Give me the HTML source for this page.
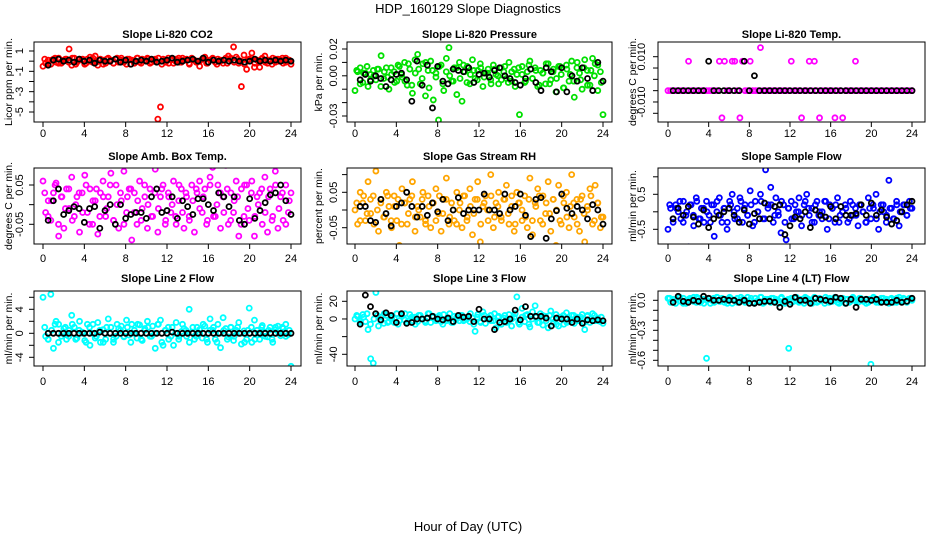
<!DOCTYPE html>
<html><head><meta charset="utf-8"><style>
body{margin:0;background:#fff;}
svg{display:block;font-family:"Liberation Sans",Arial,sans-serif;}
</style></head><body>
<svg id="chart" width="936" height="540" viewBox="0 0 936 540" xmlns="http://www.w3.org/2000/svg">
<rect x="0" y="0" width="936" height="540" fill="#fff"/>
<text x="468" y="13" text-anchor="middle" font-size="13">HDP_160129  Slope Diagnostics</text>
<text x="468" y="531" text-anchor="middle" font-size="13">Hour of Day (UTC)</text>
<g id="panels"></g>
</svg>
<script>
const xTicks=[0,4,8,12,16,20,24];
const titles=["Slope Li-820 CO2","Slope Li-820 Pressure","Slope Li-820 Temp.","Slope Amb. Box Temp.","Slope Gas Stream RH","Slope Sample Flow","Slope Line 2 Flow","Slope Line 3 Flow","Slope Line 4 (LT) Flow"];
const yTitles=["Licor ppm per min.","kPa per min.","degrees C per min.","degrees C per min.","percent per min.","ml/min per min.","ml/min per min.","ml/min per min.","ml/min per min."];
const colors=["#ff0000","#00e000","#ff00ff","#ff00ff","#ffa500","#0000ff","#00ffff","#00ffff","#00ffff"];
const yTickVals=[[1,0,-1,-2,-3,-4,-5],[0.02,0.01,0,-0.01,-0.02,-0.03],[0.01,0.005,0,-0.005,-0.01,-0.015],[0.05,0,-0.05],[0.1,0.05,0,-0.05],[1,0.5,0,-0.5],[6,4,2,0,-2,-4],[20,0,-20,-40],[0,-0.1,-0.2,-0.3,-0.4,-0.5,-0.6]];
const yTickLabels=[["1","","-1","","-3","","-5"],["0.02","","0.00","","","-0.03"],["0.010","","","","-0.010",""],["0.05","","-0.05"],["","0.05","","-0.05"],["","0.5","","-0.5"],["","4","","0","","-4"],["20","0","","-40"],["0.0","","","-0.3","","","-0.6"]];

const c1=[-0.5,-0.2,0.1,-0.3,0.2,-0.1,0.3,-0.2,0.1,0.2,1.2,-0.4,0.3,-0.1,0.2,0.1,-0.3,0.2,0.4,-0.1,0.5,-0.4,0.2,0.1,-0.2,0.3,0.1,-0.2,0.2,-0.1,0.3,0.1,-0.3,0.2,0.1,-0.2,0.3,-0.1,0.2,0.1,0.3,-0.2,0.1,0.2,-5.7,-4.5,0.2,-0.1,0.3,0.1,-0.2,0.2,0.3,-0.1,0.1,0.2,-0.2,0.3,0.1,-0.1,-0.5,0.2,0.4,-0.2,0.1,0.3,-0.1,0.2,0.1,-0.2,0.3,0.5,0.2,1.4,0.4,-0.2,-2.5,0.6,-0.8,0.2,0.8,-0.6,0.1,-0.6,0.3,0.5,-0.2,0.1,0.3,-0.1,0.2,0.1,-0.2,0.3,0.1,-0.3];
const b1=[0.2,-0.3,0.1,0.3,-0.2,0.0,0.2,-0.1,0.3,-0.3,0.1,0.2,-0.2,0.0,0.3,-0.1,0.1,-0.3,0.2,0.0,-0.2,0.3,0.1,-0.1,0.2,-0.3,0.0,0.3,-0.2,0.1,0.2,-0.1,0.0,0.3,-0.3,0.1,-0.2,0.2,0.0,-0.1,0.3,0.1,-0.3,0.2,-0.1,0.0,0.3,-0.2,0.1,0.2,-0.3,0.0,0.1,-0.2,0.3,-0.1,0.2,0.0,-0.3,0.1,0.3,-0.2,0.0,0.2,-0.1,0.1,-0.3,0.2,0.0,0.3,-0.1,0.1];
const k1=[-0.4,0.1,0.2,0.0,0.1,-0.1,0.2,0.0,0.1,-0.2,0.1,0.0,0.0,0.2,-0.1,0.1,-0.3,0.0,0.1,0.0,0.2,-0.1,0.0,0.1,0.3,-0.1,0.0,0.1,0.2,0.0,0.3,-0.1,0.1,0.0,0.1,0.0,0.1,0.0,-0.1,0.0,0.2,0.0,0.1,0.0,0.1,0.0,0.1,0.0];
const c2=[-0.011,0.003,0.006,-0.005,0.002,-0.008,0.001,0.004,-0.003,0.005,0.015,-0.002,0.006,-0.010,0.001,0.003,-0.004,0.007,-0.001,0.010,-0.007,0.005,-0.013,0.012,0.016,-0.006,0.009,-0.015,0.004,0.011,-0.018,0.002,-0.033,0.008,-0.011,0.013,0.021,-0.004,0.006,-0.014,0.010,-0.019,0.003,0.007,-0.006,0.012,-0.002,0.004,0.009,-0.008,0.002,0.005,-0.003,0.008,0.001,-0.006,0.006,0.003,-0.002,0.010,-0.004,0.005,0.001,-0.029,0.007,-0.005,0.003,0.011,-0.002,0.006,-0.008,0.004,0.002,-0.006,0.009,-0.003,0.005,-0.012,0.007,0.001,-0.009,0.008,-0.004,0.011,-0.016,0.006,0.002,-0.010,0.012,0.004,-0.007,0.013,0.009,-0.011,0.003,-0.029];
const b2=[0.004,-0.006,0.002,0.007,-0.003,0.000,0.005,-0.008,0.003,-0.001,0.006,-0.005,0.008,0.001,-0.004,0.009,-0.007,0.002,0.005,-0.002,0.010,-0.009,0.004,-0.001,0.007,-0.006,0.003,0.000,-0.004,0.006,-0.002,0.008,-0.005,0.001,0.004,-0.003,0.006,-0.001,0.002,-0.006,0.005,0.000,-0.003,0.007,-0.005,0.003,-0.008,0.006,0.001,-0.004,0.008,-0.002,0.004,-0.007,0.002,0.009,-0.006,0.003,-0.002,0.007,-0.009,0.005,0.001,-0.004,0.010,-0.003,0.006,-0.007,0.004,0.000,0.008,-0.005];
const k2=[-0.003,0.001,-0.004,0.000,-0.002,-0.008,-0.003,0.001,0.002,-0.003,-0.019,0.011,-0.007,0.008,-0.024,0.007,-0.004,-0.006,0.005,0.004,0.003,0.006,-0.005,0.001,0.002,-0.001,0.004,0.006,0.000,-0.002,-0.005,-0.007,-0.002,0.005,-0.005,-0.011,0.006,0.003,-0.012,0.006,-0.012,0.000,-0.004,0.006,-0.002,-0.011,0.010,-0.004];
const c3=[-0.005,-0.005,-0.005,-0.005,-0.005,-0.005,-0.005,-0.005,0.008,-0.005,-0.005,-0.005,-0.005,-0.005,-0.005,-0.005,-0.005,-0.005,-0.005,-0.005,0.008,-0.017,0.008,-0.005,-0.005,0.008,0.008,-0.005,-0.017,0.008,-0.005,-0.005,0.008,-0.005,-0.005,-0.005,0.014,-0.005,-0.005,-0.005,-0.005,-0.005,-0.005,-0.005,-0.005,-0.005,-0.005,-0.005,0.008,-0.005,-0.005,-0.005,-0.017,-0.005,-0.005,0.008,-0.005,0.008,-0.005,-0.017,-0.005,-0.005,-0.005,-0.005,-0.005,-0.017,-0.005,-0.005,-0.017,-0.005,-0.005,-0.005,-0.005,0.008,-0.005,-0.005,-0.005,-0.005,-0.005,-0.005,-0.005,-0.005,-0.005,-0.005,-0.005,-0.005,-0.005,-0.005,-0.005,-0.005,-0.005,-0.005,-0.005,-0.005,-0.005,-0.005];
const b3=[];
const k3=[-0.005,-0.005,-0.005,-0.005,-0.005,-0.005,-0.005,0.008,-0.005,-0.005,-0.005,-0.005,-0.005,-0.005,0.008,-0.005,0.0016,-0.005,-0.005,-0.005,-0.005,-0.005,-0.005,-0.005,-0.005,-0.005,-0.005,-0.005,-0.005,-0.005,-0.005,-0.005,-0.005,-0.005,-0.005,-0.005,-0.005,-0.005,-0.005,-0.005,-0.005,-0.005,-0.005,-0.005,-0.005,-0.005,-0.005,-0.005];
const c4=[0.06,-0.02,0.01,-0.04,0.03,0.055,-0.08,0.02,-0.06,0.04,-0.01,0.07,-0.03,0.02,-0.07,0.03,0.075,-0.02,0.04,-0.05,0.01,-0.075,0.03,0.06,-0.03,0.02,0.08,-0.04,0.05,-0.06,0.01,0.085,-0.02,0.04,-0.09,0.03,-0.05,0.06,-0.01,0.02,-0.06,0.04,-0.03,0.09,-0.07,0.02,0.05,-0.04,0.03,-0.02,0.06,-0.05,0.01,0.04,-0.06,0.02,-0.03,0.05,-0.07,0.03,0.06,-0.02,0.04,-0.04,0.07,0.095,-0.03,0.05,-0.06,0.02,0.10,-0.05,0.03,-0.02,0.06,-0.08,0.04,-0.03,0.05,-0.04,0.06,-0.08,0.02,0.03,-0.05,0.07,-0.07,0.04,-0.03,0.085,-0.06,0.02,-0.04,0.05,-0.02,0.03];
const b4=[0.03,-0.03,0.01,0.05,-0.05,0.02,-0.01,0.04,-0.04,0.0,0.03,-0.02,0.05,-0.05,0.01,0.04,-0.03,0.02,-0.01,0.05,-0.04,0.0,0.03,-0.05,0.02,0.04,-0.02,0.01,-0.04,0.05,0.0,-0.03,0.03,-0.01,0.04,-0.05,0.02,0.0,-0.03,0.05,-0.02,0.03,-0.04,0.01,0.04,-0.01,0.02,-0.05,0.05,-0.03,0.0,0.03,-0.02,0.04,-0.04,0.01,0.02,-0.05,0.05,-0.01,0.03,-0.03,0.0,0.04,-0.02,0.02,-0.04,0.05,-0.01,0.03,-0.05,0.01];
const k4=[-0.04,0.01,0.04,-0.025,-0.015,-0.005,-0.01,-0.045,-0.01,-0.005,-0.06,-0.015,0.0,-0.05,0.0,-0.035,-0.025,-0.02,-0.02,-0.035,0.02,0.04,-0.02,-0.015,0.02,-0.035,0.01,-0.005,-0.025,0.015,0.015,0.0,-0.015,0.03,0.02,-0.005,0.02,-0.04,-0.05,0.015,-0.035,-0.015,0.005,0.025,0.03,0.05,0.01,-0.025];
const c5=[0.0,-0.04,0.05,0.02,-0.03,0.08,-0.01,0.04,0.11,-0.06,0.03,-0.02,0.05,0.01,-0.05,0.04,-0.03,-0.1,0.06,0.02,-0.04,0.03,0.08,-0.06,0.01,-0.02,0.05,-0.03,0.04,-0.05,0.02,0.06,-0.01,-0.06,0.03,0.09,-0.04,0.02,-0.03,0.05,0.0,-0.05,0.04,-0.02,0.06,-0.07,0.03,0.08,-0.09,0.01,0.04,-0.03,0.1,-0.05,0.02,0.05,-0.02,0.03,0.07,-0.04,0.01,-0.06,0.05,0.02,-0.03,0.04,-0.05,0.09,-0.07,0.02,0.06,-0.03,0.04,-0.01,0.08,-0.06,0.03,-0.1,0.07,-0.04,0.02,0.05,-0.05,0.1,-0.02,0.03,-0.06,0.04,-0.09,0.01,0.06,-0.04,0.07,0.02,-0.05,-0.02];
const b5=[0.02,-0.03,0.04,-0.01,0.03,-0.04,0.0,0.02,-0.02,0.04,-0.03,0.01,0.03,-0.04,0.02,-0.01,0.04,-0.02,0.0,0.03,-0.04,0.01,0.02,-0.03,0.04,-0.01,0.03,-0.02,0.0,-0.04,0.02,0.04,-0.03,0.01,-0.01,0.03,-0.04,0.02,0.0,0.04,-0.02,0.01,-0.03,0.03,-0.01,0.04,-0.04,0.02,0.0,-0.02,0.03,-0.03,0.01,0.04,-0.04,0.02,-0.01,0.03,0.0,-0.03,0.04,-0.02,0.01,0.02,-0.04,0.03,-0.01,0.0,0.04,-0.03,0.02,-0.02];
const k5=[0.01,0.01,-0.03,-0.035,0.03,-0.01,-0.045,0.01,0.02,0.05,0.01,-0.02,0.01,-0.015,0.02,-0.005,0.03,-0.03,0.0,0.035,-0.01,0.0,0.0,0.0,0.045,0.0,0.0,-0.01,0.045,0.0,0.01,0.045,-0.015,-0.075,0.03,0.035,-0.08,-0.025,-0.002,0.045,0.005,-0.01,0.01,0.0,-0.025,0.015,0.0,-0.04];
const c6=[-0.5,0.1,-0.3,0.2,0.0,-0.2,0.3,-0.1,-1.0,0.2,-0.4,0.4,-0.2,0.1,-0.3,0.3,-0.1,0.2,-0.7,0.0,0.4,-0.3,0.1,-0.5,0.3,0.5,-0.2,0.1,0.4,-0.3,0.2,-0.1,0.6,-0.4,0.3,0.0,0.5,-0.2,1.2,0.2,0.7,-0.3,0.4,-0.1,-0.6,0.2,-0.8,0.1,0.3,-0.2,0.0,0.4,-0.4,0.2,0.5,-0.1,0.1,-0.3,0.3,0.0,-0.2,0.3,-0.5,0.2,0.1,-0.3,0.4,-0.1,0.0,0.2,-0.3,0.3,-0.1,0.1,-0.4,0.2,0.0,-0.3,0.4,-0.2,0.1,0.5,-0.5,0.2,0.0,-0.3,0.9,0.1,-0.2,0.3,-0.4,0.0,0.2,-0.1,0.3,0.1];
const b6=[0.2,-0.2,0.1,0.3,-0.3,0.0,0.2,-0.1,0.3,-0.2,0.1,0.0,-0.3,0.2,0.3,-0.1,0.1,-0.3,0.2,0.0,-0.2,0.3,0.1,-0.1,0.2,-0.3,0.0,0.3,-0.2,0.1,0.2,-0.1,0.0,0.3,-0.3,0.1,-0.2,0.2,0.0,-0.1,0.3,0.1,-0.3,0.2,-0.1,0.0,0.3,-0.2,0.1,0.2,-0.3,0.0,0.1,-0.2,0.2,-0.1,0.2,0.0,-0.3,0.1,0.2,-0.2,0.0,0.2,-0.1,0.1,-0.2,0.2,0.0,0.2,-0.1,0.1];
const k6=[-0.2,0.1,-0.1,0.15,-0.15,-0.35,0.05,-0.45,-0.2,-0.1,0.0,0.1,-0.1,-0.3,0.05,-0.35,-0.05,-0.2,0.25,-0.2,0.15,0.2,-0.65,-0.4,-0.15,-0.2,0.0,-0.45,0.05,-0.1,-0.15,0.15,-0.2,0.15,-0.1,-0.1,-0.05,0.2,-0.1,0.25,-0.1,0.05,-0.15,-0.35,-0.25,0.0,0.2,0.3];
const c7=[6.0,-0.5,-1.0,6.5,-2.5,2.0,1.5,-0.5,0.8,-1.0,0.5,3.0,1.0,-0.8,2.0,0.2,-1.2,1.5,-2.0,0.0,-0.8,1.8,-1.5,0.6,-1.0,2.4,1.0,-1.5,-0.5,0.8,1.2,-0.6,2.2,-0.3,1.5,0.5,-0.8,1.4,-1.2,0.8,2.0,-0.5,1.2,-2.5,1.5,2.2,-2.0,0.5,1.0,-0.5,-2.0,1.8,-1.0,0.3,0.8,-0.5,4.0,0.2,-1.0,1.0,0.6,-0.8,1.2,-1.5,2.4,0.5,-1.0,1.5,-2.4,2.6,0.8,-0.6,1.0,-1.2,0.5,1.8,-1.8,0.4,-1.0,4.2,-1.5,2.2,0.5,-1.0,1.3,0.2,-0.6,1.0,-1.5,0.6,1.2,-0.4,0.8,1.5,-0.2,-5.5];
const b7=[1.0,-1.0,0.5,1.5,-1.5,0.0,1.0,-0.5,1.5,-1.0,0.5,0.0,-1.5,1.0,1.5,-0.5,0.5,-1.5,1.0,0.0,-1.0,1.5,0.5,-0.5,1.0,-1.5,0.0,1.5,-1.0,0.5,1.0,-0.5,0.0,1.5,-1.5,0.5,-1.0,1.0,0.0,-0.5,1.5,0.5,-1.5,1.0,-0.5,0.0,1.5,-1.0,0.5,1.0,-1.5,0.0,0.5,-1.0,1.0,-0.5,1.0,0.0,-1.5,0.5,1.0,-1.0,0.0,1.0,-0.5,0.5,-1.0,1.0,0.0,1.0,-0.5,0.5];
const k7=[0,0,0,0,0,0,0,0,0,0,0.2,0,0,0,0,0,0,0,0,0,0,0,0,0,0.2,0,0,0,0,0,0,0,0,0,0,0,0,0,0,0,0,0,0,0,0,0,0,0];
const c8=[0,3,-2,5,-3,-12,-45,-50,30,-8,2,-5,4,-3,1,-4,6,-2,3,-1,-4,5,-2,2,-3,4,0,-2,6,-4,3,-1,2,-3,5,-2,1,-4,3,0,-2,4,-1,2,-3,1,-14,5,-3,8,-5,2,4,-2,-10,3,-6,1,-4,5,-8,2,25,-6,12,-3,5,-9,8,15,-4,6,-7,3,-10,9,-4,5,-8,2,-6,7,-3,4,-5,2,-2,5,-12,3,-4,6,-2,1,-3,-5];
const b8=[4,-4,2,6,-6,0,4,-2,6,-4,2,0,-6,4,6,-2,2,-6,4,0,-4,6,2,-2,4,-6,0,6,-4,2,4,-2,0,6,-6,2,-4,4,0,-2,6,2,-6,4,-2,0,6,-4,2,4,-6,0,2,-4,4,-2,4,0,-6,2,4,-4,0,4,-2,2,-4,4,0,4,-2,2];
const k8=[-6,27,14,6,-1,7,4,-4,6,-5,-4,0,0,1,3,0,-1,1,-3,4,2,3,-3,11,0,0,-12,-4,-3,0,10,-1,14,3,3,3,1,-8,1,0,0,-4,0,-5,-1,-2,-1,-2];
const c9=[0.02,-0.02,0.01,-0.03,0.03,-0.01,0.02,-0.03,0.01,0.0,0.03,-0.02,0.02,-0.01,-0.03,-0.58,0.02,0.0,-0.02,0.03,-0.01,0.02,-0.02,0.01,0.03,-0.03,0.0,0.02,-0.01,0.01,-0.02,0.03,0.0,-0.02,0.02,-0.01,0.03,-0.03,0.01,0.0,-0.02,0.02,0.01,-0.03,0.02,-0.01,0.0,-0.48,0.02,-0.01,0.03,-0.02,0.01,-0.03,0.02,0.0,-0.01,0.03,-0.02,0.02,0.0,-0.03,0.01,0.02,-0.01,0.03,-0.02,0.0,0.02,-0.03,0.01,-0.01,0.03,0.0,-0.02,0.02,-0.01,0.01,-0.02,-0.64,0.03,0.0,-0.02,0.02,-0.01,0.01,-0.03,0.02,0.0,-0.02,0.03,-0.01,0.01,-0.02,0.02,0.0];
const b9=[0.02,-0.02,0.01,0.03,-0.03,0.0,0.02,-0.01,0.03,-0.02,0.01,0.0,-0.03,0.02,0.03,-0.01,0.01,-0.03,0.02,0.0,-0.02,0.03,0.01,-0.01,0.02,-0.03,0.0,0.03,-0.02,0.01,0.02,-0.01,0.0,0.03,-0.03,0.01,-0.02,0.02,0.0,-0.01,0.03,0.01,-0.03,0.02,-0.01,0.0,0.03,-0.02,0.01,0.02,-0.03,0.0,0.01,-0.02,0.02,-0.01,0.02,0.0,-0.03,0.01,0.02,-0.02,0.0,0.02,-0.01,0.01,-0.02,0.02,0.0,0.02,-0.01,0.01];
const k9=[-0.02,0.04,-0.01,-0.02,0.0,-0.01,0.04,0.02,0.0,0.0,0.01,0.0,0.0,-0.02,0.0,-0.03,-0.03,-0.02,-0.01,-0.01,-0.02,-0.07,-0.01,-0.04,0.03,0.0,0.0,-0.03,0.02,0.01,0.0,-0.01,0.03,0.02,-0.03,0.01,-0.07,0.01,0.01,0.0,0.01,-0.02,-0.02,-0.02,0.0,-0.02,-0.01,0.02];
const colorSeries=[c1,c2,c3,c4,c5,c6,c7,c8,c9];
const bandSeries=[b1,b2,b3,b4,b5,b6,b7,b8,b9];
const blackSeries=[k1,k2,k3,k4,k5,k6,k7,k8,k9];

// layout (not data)
const cols=[{L:34,R:301,x0:43,x24:291,yt:8,tl:19},{L:347,R:612,x0:355,x24:603,yt:318,tl:333},{L:658,R:925,x0:668,x24:912,yt:632,tl:641}];
const rows=[{T:42,B:122,ty:38,xl:137},{T:168,B:244,ty:160,xl:262},{T:291,B:366,ty:282,xl:385}];
const ycal=[[1,51,-5,112],[0.02,49,-0.03,116],[0.01,56.7,-0.015,113.3],[0.05,185,-0.05,224.3],[0.05,192.3,-0.05,227.7],[0.5,194.3,-0.5,229.3],[4,309.3,-4,357.3],[20,301.3,-40,354.3],[0,300.3,-0.6,360.3]];

const NS="http://www.w3.org/2000/svg";
const root=document.getElementById('panels');
function mk(tag,attrs,parent){const e=document.createElementNS(NS,tag);for(const k in attrs)e.setAttribute(k,attrs[k]);parent.appendChild(e);return e;}

for(let p=0;p<9;p++){
  const c=cols[p%3], r=rows[Math.floor(p/3)], cal=ycal[p];
  const xs=h=>c.x0+(c.x24-c.x0)*h/24;
  const ys=v=>cal[1]+(v-cal[0])*(cal[3]-cal[1])/(cal[2]-cal[0]);
  const g=mk('g',{},root);
  
  
  const cid='clip'+p;
  const cp=mk('clipPath',{id:cid},g);
  mk('rect',{x:c.L,y:r.T,width:c.R-c.L,height:r.B-r.T},cp);
  const t=mk('text',{x:(c.L+c.R)/2,y:r.ty,'text-anchor':'middle','font-size':11,'font-weight':'bold'},g);
  t.textContent=titles[p];
  
  
  const yt=mk('text',{x:0,y:0,transform:`translate(${c.yt+4},${(r.T+r.B)/2}) rotate(-90)`,'text-anchor':'middle','font-size':10.5,textLength:yTitles[p].length>16?88:undefined},g);
  if(!(yTitles[p].length>16)) yt.removeAttribute('textLength');
  yt.textContent=yTitles[p];
  
  
  const xa=mk('g',{},g);
  
  
  xTicks.forEach(h=>{
    mk('line',{x1:xs(h),x2:xs(h),y1:r.B,y2:r.B+5,stroke:'#000'},xa);
    const l=mk('text',{x:xs(h),y:r.xl,'text-anchor':'middle','font-size':11},xa);
    l.textContent=h;
    
    
  });
  const ya=mk('g',{},g);
  
  
  yTickVals[p].forEach((v,i)=>{
    const y=ys(v);
    mk('line',{x1:c.L-5,x2:c.L,y1:y,y2:y,stroke:'#000'},ya);
    if(yTickLabels[p][i]){
      const l=mk('text',{x:0,y:0,transform:`translate(${c.tl+4},${y}) rotate(-90)`,'text-anchor':'middle','font-size':11},ya);
      l.textContent=yTickLabels[p][i];
      
      
    }
  });
  const pts=mk('g',{'clip-path':`url(#${cid})`},g);
  const bs2=bandSeries[p], nb=bs2.length;
  bs2.forEach((v,i)=>{
    const h=24*(i+0.5)/nb;
    const e=mk('circle',{cx:xs(h),cy:ys(v),r:2.5,fill:'none',stroke:colors[p],'stroke-width':1.8},pts);
    
    
  });
  const cs=colorSeries[p], n=cs.length;
  cs.forEach((v,i)=>{
    const h=24*i/(n-1);
    const e=mk('circle',{cx:xs(h),cy:ys(v),r:2.5,fill:'none',stroke:colors[p],'stroke-width':1.8},pts);
    
    
  });
  const bs=blackSeries[p], m=bs.length;
  bs.forEach((v,i)=>{
    const h=0.5+23.5*i/(m-1);
    const e=mk('circle',{cx:xs(h),cy:ys(v),r:2.5,fill:'none',stroke:'#000','stroke-width':1.8},pts);
    
    
  });
  mk('rect',{x:c.L,y:r.T,width:c.R-c.L,height:r.B-r.T,fill:'none',stroke:'#000'},g);
}
</script>
</body></html>
